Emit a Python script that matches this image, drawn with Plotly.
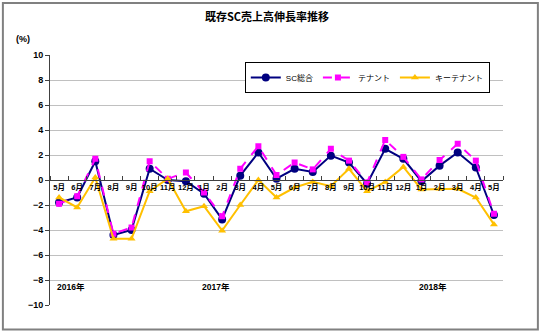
import plotly.graph_objects as go

# Monthly growth rates of existing shopping centres (%), May 2016 - May 2018
months = ["5月", "6月", "7月", "8月", "9月", "10月", "11月", "12月",
          "1月", "2月", "3月", "4月", "5月", "6月", "7月", "8月", "9月", "10月", "11月", "12月",
          "1月", "2月", "3月", "4月", "5月"]
years = ["2016年", "2017年", "2018年"]
year_start_idx = [0, 8, 20]

sc_total = [-1.8, -1.4, 1.5, -4.4, -4.0, 0.9, 0.0, -0.1, -1.1, -3.15, 0.35, 2.2, 0.1,
            0.9, 0.65, 1.95, 1.4, -0.3, 2.5, 1.7, -0.1, 1.15, 2.2, 1.0, -2.8]
tenant = [-1.9, -1.3, 1.7, -4.3, -3.8, 1.5, 0.1, 0.6, -1.0, -2.9, 0.9, 2.7, 0.4,
          1.4, 0.85, 2.5, 1.55, -0.2, 3.2, 1.85, 0.05, 1.6, 2.9, 1.55, -2.7]
key_tenant = [-1.4, -2.2, 0.2, -4.7, -4.7, -0.9, 0.1, -2.5, -2.1, -4.05, -2.0, 0.0, -1.4,
              -0.6, -0.15, -0.5, 0.9, -0.9, -0.15, 1.05, -0.75, -0.7, -0.7, -1.4, -3.55]

x = list(range(len(months)))
FONT = "Liberation Sans, Arial, Noto Sans CJK JP"

fig = go.Figure()
fig.add_trace(go.Scatter(
    x=x, y=sc_total, name="SC総合", mode="lines+markers",
    line=dict(color="#000080", width=2),
    marker=dict(symbol="circle", size=8, color="#000080"),
))
fig.add_trace(go.Scatter(
    x=x, y=tenant, name="テナント", mode="lines+markers",
    line=dict(color="#FF00FF", width=2, dash="dash"),
    marker=dict(symbol="square", size=6, color="#FF00FF"),
))
fig.add_trace(go.Scatter(
    x=x, y=key_tenant, name="キーテナント", mode="lines+markers",
    line=dict(color="#FFC000", width=2),
    marker=dict(symbol="triangle-up", size=7, color="#FFC000"),
))

annotations = [
    dict(text="既存SC売上高伸長率推移", xref="paper", yref="paper",
         x=0.478, y=1.155, xanchor="center", yanchor="middle", showarrow=False,
         font=dict(family="Noto Sans CJK JP", size=11, color="#000", weight="bold")),
    dict(text="(%)", xref="paper", yref="paper",
         x=-0.06, y=1.065, xanchor="center", yanchor="middle", showarrow=False,
         font=dict(family=FONT, size=9, color="#000", weight="bold")),
]
for yr, idx in zip(years, year_start_idx):
    annotations.append(dict(
        text=yr, xref="x", yref="y", x=idx, y=-8.55, xanchor="left", yanchor="middle",
        xshift=-4, showarrow=False,
        font=dict(family=FONT, size=8.5, color="#000", weight="bold"),
    ))

fig.update_layout(
    width=544, height=333,
    margin=dict(l=50, r=41, t=55, b=28),
    paper_bgcolor="white", plot_bgcolor="white",
    font=dict(family=FONT, size=9, color="#000"),
    showlegend=True,
    legend=dict(
        orientation="h", x=0.43, y=0.972, xanchor="left", yanchor="top",
        bgcolor="white", bordercolor="#000", borderwidth=1,
        font=dict(family=FONT, size=8, color="#000"),
        itemwidth=30, tracegroupgap=0,
    ),
    annotations=annotations,
    shapes=[dict(type="rect", xref="paper", yref="paper",
                 x0=-0.104, x1=1.077, y0=-0.098, y1=1.208,
                 line=dict(color="#808080", width=2), fillcolor="rgba(0,0,0,0)",
                 layer="below")],
)

fig.update_xaxes(
    range=[-0.5, len(months) - 0.5],
    anchor="free", position=0.5,
    tickmode="array", tickvals=x, ticktext=months, tickangle=0,
    ticks="", showgrid=False, zeroline=False,
    showline=True, linecolor="#404040", linewidth=1,
    tickfont=dict(family=FONT, size=7.5, color="#000", weight="bold"),
    minor=dict(tickmode="linear", tick0=-0.5, dtick=1, ticks="inside",
               ticklen=4, tickcolor="#404040", showgrid=False),
)
fig.update_yaxes(
    range=[-10, 10], dtick=2, tick0=0,
    showgrid=True, gridcolor="#c0c0c0", gridwidth=1,
    zeroline=False,
    showline=True, linecolor="#404040", linewidth=1,
    ticks="outside", ticklen=4, tickcolor="#404040",
    tickfont=dict(family=FONT, size=9, color="#000", weight="bold"),
)

fig.write_html("out.html")
